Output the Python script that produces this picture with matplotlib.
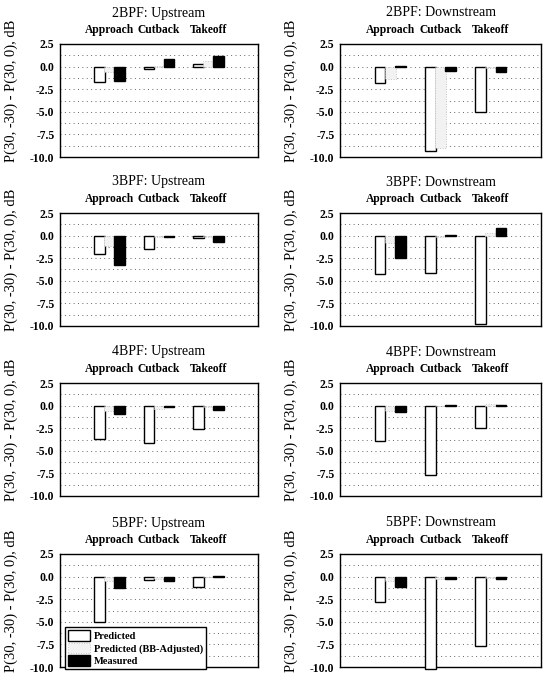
import numpy as np
import matplotlib
matplotlib.use("Agg")
import matplotlib.pyplot as plt

plt.rcParams["font.family"] = ["Liberation Serif", "DejaVu Serif"]
plt.rcParams["axes.unicode_minus"] = False

# flight conditions along the top of every panel
categories = ["Approach", "Cutback", "Takeoff"]

titles = ["2BPF: Upstream", "2BPF: Downstream",
          "3BPF: Upstream", "3BPF: Downstream",
          "4BPF: Upstream", "4BPF: Downstream",
          "5BPF: Upstream", "5BPF: Downstream"]

# P(30,-30) - P(30,0) in dB, one row per panel (Approach, Cutback, Takeoff)
predicted = [[-1.7, -0.3, 0.3],
             [-1.8, -9.3, -5.0],
             [-2.0, -1.5, -0.3],
             [-4.2, -4.1, -9.8],
             [-3.7, -4.1, -2.6],
             [-3.9, -7.7, -2.5],
             [-5.0, -0.4, -1.2],
             [-2.8, -10.2, -7.7]]

bb_adjusted = [[-0.6, 0.1, 0.6],
               [-1.4, -9.0, -0.2],
               [-1.2, -0.1, -0.2],
               [-0.8, -0.1, 0.3],
               [-0.6, -0.4, -0.2],
               [-0.6, 0.0, 0.2],
               [-0.5, -0.3, 0.0],
               [-0.5, -0.3, -0.2]]

measured = [[-1.6, 0.8, 1.2],
            [0.1, -0.5, -0.6],
            [-3.2, -0.1, -0.7],
            [-2.5, 0.1, 0.8],
            [-0.9, -0.2, -0.5],
            [-0.7, 0.1, 0.05],
            [-1.3, -0.5, 0.1],
            [-1.2, -0.3, -0.3]]

W, H = 548, 674
fig = plt.figure(figsize=(W / 100, H / 100), dpi=100)

col_left = [60, 340]
col_width = [198, 201]
row_top = [44, 213, 383, 554]
ax_h = 113

x = np.arange(1, len(categories) + 1)
bw = 0.21

for i, title in enumerate(titles):
    row, col = divmod(i, 2)
    ax = fig.add_axes([col_left[col] / W, 1 - (row_top[row] + ax_h) / H,
                       col_width[col] / W, ax_h / H])

    ax.bar(x - 0.2, predicted[i], bw, color="white", edgecolor="black",
           linewidth=1.0, zorder=3, clip_on=False, label="Predicted")
    ax.bar(x, bb_adjusted[i], bw, color="#f2f2f2", edgecolor="#b8b8b8",
           linewidth=0.6, linestyle=(0, (1, 2)), zorder=3, clip_on=False,
           label="Predicted (BB-Adjusted)")
    ax.bar(x + 0.2, measured[i], bw, color="black", edgecolor="black",
           linewidth=1.0, zorder=3, clip_on=False, label="Measured")

    ax.set_xlim(0, 4)
    ax.set_ylim(-10, 2.5)
    ax.set_yticks(np.arange(-10, 2.6, 2.5))
    ax.set_yticklabels(["%.1f" % v for v in np.arange(-10, 2.6, 2.5)],
                       fontsize=8.5, fontweight="bold")
    ax.set_yticks(np.arange(-8.75, 2.5, 2.5), minor=True)
    ax.grid(axis="y", which="both", color="0.4", linestyle=(0, (1, 3.5)),
            linewidth=0.7, zorder=0)
    ax.tick_params(axis="y", which="both", length=0, pad=4)

    ax.xaxis.tick_top()
    ax.set_xticks(x)
    ax.set_xticklabels(categories, fontsize=8.3, fontweight="bold")
    ax.tick_params(axis="x", length=0, pad=6)

    for s in ax.spines.values():
        s.set_linewidth(1.0)
        s.set_zorder(2.5)

    ax.text(0.5, 1 + 31 / ax_h, title, transform=ax.transAxes,
            ha="center", va="center", fontsize=10)

    ax.set_ylabel("P(30, -30) - P(30, 0), dB", fontsize=10.5)
    ax.yaxis.set_label_coords(-42 / col_width[col], 0.59)

    if i == 6:
        leg = ax.legend(loc="lower left", bbox_to_anchor=(0.025, -0.02),
                        borderaxespad=0, frameon=True,
                        fancybox=False, framealpha=1, edgecolor="black",
                        handlelength=2.1, handleheight=1.2,
                        handletextpad=0.4, labelspacing=0.15,
                        borderpad=0.3, prop={"weight": "bold", "size": 7.5})
        leg.get_frame().set_linewidth(1.0)
        leg.set_zorder(5)

fig.savefig("out.png", dpi=100)
